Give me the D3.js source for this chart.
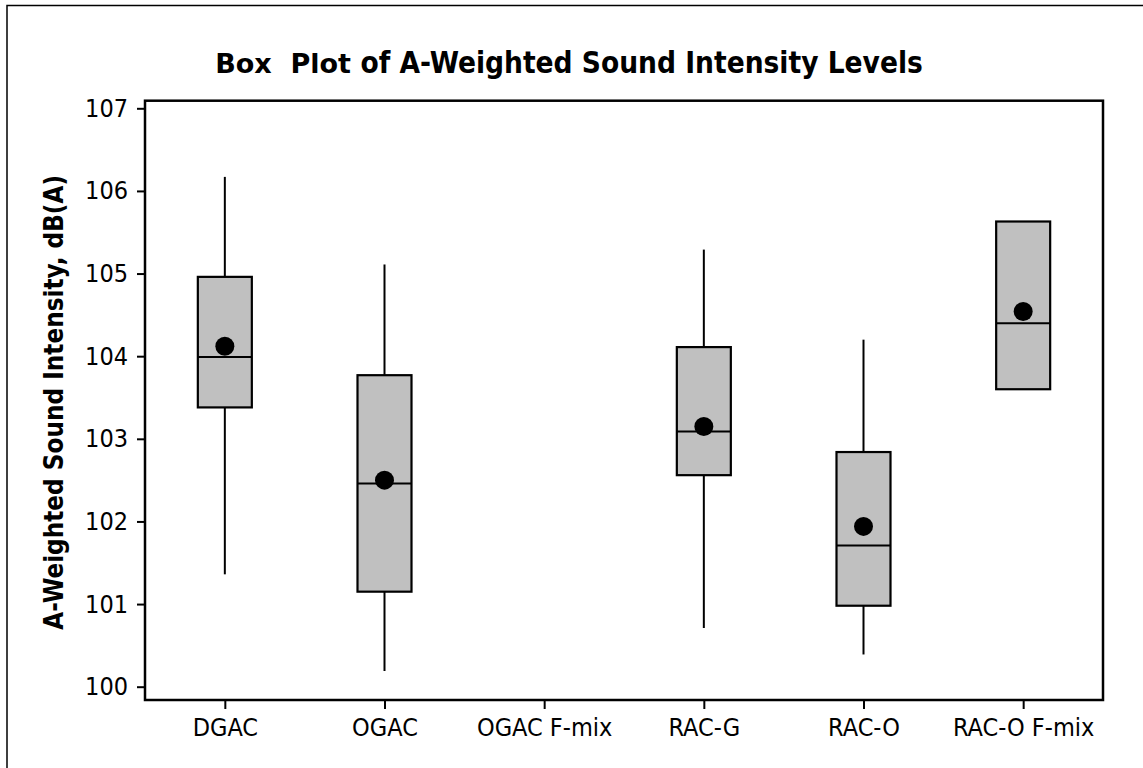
<!DOCTYPE html>
<html>
<head>
<meta charset="utf-8">
<script src="https://cdn.jsdelivr.net/npm/d3@7"></script>
<style>
  html, body { margin: 0; padding: 0; background: #fff; }
  svg { display: block; }
</style>
</head>
<body>
<svg id="chart" width="1143" height="768"></svg>
<script>
const categories = ["DGAC", "OGAC", "OGAC F-mix", "RAC-G", "RAC-O", "RAC-O F-mix"];
const whiskerHigh = [106.17, 105.11, null, 105.29, 104.20, null];
const q3 = [104.96, 103.77, null, 104.11, 102.84, 105.63];
const median = [103.99, 102.46, null, 103.09, 101.71, 104.40];
const q1 = [103.38, 101.15, null, 102.56, 100.98, 103.60];
const whiskerLow = [101.36, 100.19, null, 100.71, 100.39, null];
const means = [104.12, 102.50, null, 103.15, 101.94, 104.54];
const yTicks = [100, 101, 102, 103, 104, 105, 106, 107];

const titleText = "of A-Weighted Sound Intensity Levels";
const titleLead = "Box  Plot ";
const yLabel = "A-Weighted Sound Intensity, dB(A)";

const svg = d3.select("#chart");
const plot = { left: 145, right: 1103, top: 100.7, bottom: 700 };
const FONT = "'DejaVu Sans', sans-serif";

// outer frame (right/bottom edges fall outside the canvas)
svg.append("rect")
  .attr("x", 7).attr("y", 5.5).attr("width", 1160).attr("height", 800)
  .attr("fill", "#fff").attr("stroke", "#000").attr("stroke-width", 1.5);

const x = d3.scalePoint().domain(categories).range([plot.left, plot.right]).padding(0.5);
const y = d3.scaleLinear().domain([99.839, 107.092]).range([plot.bottom, plot.top]);

const boxW = 54;

const data = categories.map((c, i) => ({
  cat: c, hi: whiskerHigh[i], q3: q3[i], med: median[i], q1: q1[i], lo: whiskerLow[i], mean: means[i]
}));

const g = svg.append("g");

// whiskers
data.forEach(d => {
  if (d.hi != null && d.q3 != null) {
    g.append("line").attr("x1", x(d.cat)).attr("x2", x(d.cat))
      .attr("y1", y(d.hi)).attr("y2", y(d.q3)).attr("stroke", "#000").attr("stroke-width", 2);
  }
  if (d.lo != null && d.q1 != null) {
    g.append("line").attr("x1", x(d.cat)).attr("x2", x(d.cat))
      .attr("y1", y(d.q1)).attr("y2", y(d.lo)).attr("stroke", "#000").attr("stroke-width", 2);
  }
});

// boxes
const boxes = data.filter(d => d.q3 != null);
g.selectAll("rect.box").data(boxes).enter().append("rect")
  .attr("class", "box")
  .attr("x", d => x(d.cat) - boxW / 2)
  .attr("width", boxW)
  .attr("y", d => y(d.q3))
  .attr("height", d => y(d.q1) - y(d.q3))
  .attr("fill", "#c0c0c0").attr("stroke", "#000").attr("stroke-width", 2.2);

g.selectAll("line.med").data(boxes).enter().append("line")
  .attr("class", "med")
  .attr("x1", d => x(d.cat) - boxW / 2).attr("x2", d => x(d.cat) + boxW / 2)
  .attr("y1", d => y(d.med)).attr("y2", d => y(d.med))
  .attr("stroke", "#000").attr("stroke-width", 2);

g.selectAll("circle.mean").data(data.filter(d => d.mean != null)).enter().append("circle")
  .attr("class", "mean")
  .attr("cx", d => x(d.cat)).attr("cy", d => y(d.mean)).attr("r", 9.5)
  .attr("fill", "#000");

// plot frame
svg.append("rect")
  .attr("x", plot.left).attr("y", plot.top)
  .attr("width", plot.right - plot.left).attr("height", plot.bottom - plot.top)
  .attr("fill", "none").attr("stroke", "#000").attr("stroke-width", 2.5);

// y axis
const yAxis = d3.axisLeft(y).tickValues(yTicks).tickSize(8).tickPadding(9).tickFormat(d3.format("d"));
const ya = svg.append("g").attr("transform", `translate(${plot.left},0)`).call(yAxis);
ya.select(".domain").remove();
ya.selectAll(".tick line").attr("stroke", "#000").attr("stroke-width", 2);
ya.selectAll(".tick text").attr("font-size", 25).attr("fill", "#000")
  .style("font-family", FONT).style("font-stretch", "condensed");

// x axis
const xAxis = d3.axisBottom(x).tickSize(9).tickPadding(9);
const xa = svg.append("g").attr("transform", `translate(0,${plot.bottom})`).call(xAxis);
xa.select(".domain").remove();
xa.selectAll(".tick line").attr("stroke", "#000").attr("stroke-width", 2);
xa.selectAll(".tick text").attr("font-size", 25).attr("fill", "#000")
  .style("font-family", FONT).style("font-stretch", "condensed");

// title
const title = svg.append("text")
  .attr("x", 569).attr("y", 73).attr("text-anchor", "middle")
  .attr("font-weight", "bold").attr("fill", "#000")
  .style("white-space", "pre");
title.append("tspan").text(titleLead)
  .style("font-family", FONT).attr("font-size", 27);
title.append("tspan").text(titleText)
  .style("font-family", FONT).style("font-stretch", "condensed")
  .attr("font-size", 29.5);

// y label
svg.append("text")
  .attr("transform", `translate(63,${(plot.top + plot.bottom) / 2 + 2}) rotate(-90)`)
  .attr("text-anchor", "middle").attr("font-weight", "bold").attr("font-size", 25.8)
  .attr("fill", "#000")
  .style("font-family", FONT).style("font-stretch", "condensed")
  .text(yLabel);
</script>
</body>
</html>
